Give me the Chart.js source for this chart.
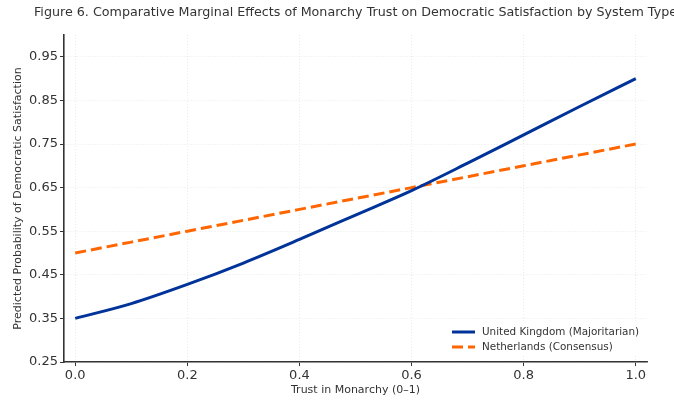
<!DOCTYPE html>
<html>
<head>
<meta charset="utf-8">
<script src="https://cdn.jsdelivr.net/npm/chart.js@4/dist/chart.umd.min.js"></script>
<style>
  body { margin: 0; background: #fff; }
  canvas { display: block; }
</style>
</head>
<body>
<canvas id="chart_0" width="674" height="401"></canvas>
<script>
var trust = [0, 0.1, 0.2, 0.3, 0.4, 0.5, 0.6, 0.7, 0.8, 0.9, 1.0];
var ukValues = [0.35, 0.384, 0.428, 0.477, 0.531, 0.587, 0.643, 0.706, 0.771, 0.836, 0.90];
var nlValues = [0.50, 0.525, 0.55, 0.575, 0.60, 0.625, 0.65, 0.675, 0.70, 0.725, 0.75];
var xTicks = [0, 0.2, 0.4, 0.6, 0.8, 1.0];
var yTicks = [0.25, 0.35, 0.45, 0.55, 0.65, 0.75, 0.85, 0.95];

var font = "DejaVu Sans";
var ink = "#333333";

function toPoints(vals) {
  return trust.map(function (t, i) { return { x: t, y: vals[i] }; });
}

// title centred over the plot area, like matplotlib
var titlePlugin = {
  id: "figTitle",
  afterDraw: function (chart) {
    var ctx = chart.ctx, a = chart.chartArea;
    ctx.save();
    ctx.font = "12.7px '" + font + "'";
    ctx.fillStyle = ink;
    ctx.textAlign = "center";
    ctx.textBaseline = "middle";
    ctx.fillText("Figure 6. Comparative Marginal Effects of Monarchy Trust on Democratic Satisfaction by System Type",
      (a.left + a.right) / 2, 13);
    ctx.restore();
  }
};

// legend in the lower right corner, inside the axes
var legendPlugin = {
  id: "innerLegend",
  afterDatasetsDraw: function (chart) {
    var ctx = chart.ctx, a = chart.chartArea;
    var x0 = a.right - 195, y0 = a.bottom - 30;
    ctx.save();
    ctx.fillStyle = "#ffffff";
    ctx.fillRect(x0 - 8, y0 - 10, 200, 34);
    ctx.font = "10.4px '" + font + "'";
    ctx.textBaseline = "middle";
    chart.data.datasets.forEach(function (ds, i) {
      var y = y0 + i * 15;
      ctx.strokeStyle = ds.borderColor;
      ctx.lineWidth = 3;
      ctx.setLineDash(ds.borderDash || []);
      ctx.beginPath();
      ctx.moveTo(x0, y);
      ctx.lineTo(x0 + 23, y);
      ctx.stroke();
      ctx.setLineDash([]);
      ctx.fillStyle = ink;
      ctx.fillText(ds.label, x0 + 30, y);
    });
    ctx.restore();
  }
};

new Chart("chart_0", {
  type: "scatter",
  data: {
    datasets: [{
      label: "United Kingdom (Majoritarian)",
      data: toPoints(ukValues),
      borderColor: "#003399",
      borderWidth: 3,
      showLine: true,
      pointRadius: 0,
      cubicInterpolationMode: "monotone",
      fill: false
    }, {
      label: "Netherlands (Consensus)",
      data: toPoints(nlValues),
      borderColor: "#ff6600",
      borderWidth: 3,
      borderDash: [11, 5],
      showLine: true,
      pointRadius: 0,
      fill: false
    }]
  },
  options: {
    responsive: false,
    animation: false,
    layout: { padding: { left: 0, right: 27, top: 35, bottom: 0 } },
    plugins: {
      legend: { display: false },
      title: { display: false },
      tooltip: { enabled: false }
    },
    scales: {
      x: {
        type: "linear",
        min: -0.02,
        max: 1.02,
        afterBuildTicks: function (scale) {
          scale.ticks = xTicks.map(function (v) { return { value: v }; });
        },
        afterFit: function (scale) { scale.height = 39; },
        ticks: {
          color: ink,
          font: { family: font, size: 13 },
          padding: 2,
          maxRotation: 0,
          callback: function (v) { return Number(v).toFixed(1); }
        },
        grid: {
          color: "#e4e4e4",
          lineWidth: 0.8,
          tickLength: 4,
          tickColor: ink,
          tickWidth: 1,
          tickBorderDash: []
        },
        border: { display: true, color: ink, width: 1.6, dash: [1, 2] },
        title: {
          display: true,
          text: "Trust in Monarchy (0–1)",
          color: ink,
          font: { family: font, size: 11 },
          padding: { top: 0, bottom: 4 }
        }
      },
      y: {
        type: "linear",
        min: 0.25,
        max: 1.0,
        afterBuildTicks: function (scale) {
          scale.ticks = yTicks.map(function (v) { return { value: v }; });
        },
        afterFit: function (scale) { scale.width = 64; },
        ticks: {
          color: ink,
          font: { family: font, size: 13 },
          padding: 2,
          callback: function (v) { return Number(v).toFixed(2); }
        },
        grid: {
          color: "#e4e4e4",
          lineWidth: 0.8,
          tickLength: 4,
          tickColor: ink,
          tickWidth: 1,
          tickBorderDash: []
        },
        border: { display: true, color: ink, width: 1.6, dash: [1, 2] },
        title: {
          display: true,
          text: "Predicted Probability of Democratic Satisfaction",
          color: ink,
          font: { family: font, size: 11 },
          padding: { top: 11.5, bottom: 0 }
        }
      }
    }
  },
  plugins: [titlePlugin, legendPlugin]
});
</script>
</body>
</html>
